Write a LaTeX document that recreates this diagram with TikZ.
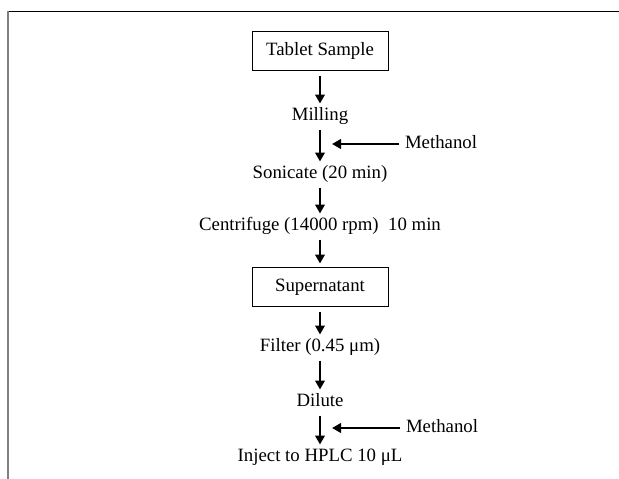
\documentclass[tikz,border=0pt]{standalone}
\usepackage{fontspec}
\setmainfont{Liberation Serif}
\usetikzlibrary{arrows.meta}
\begin{document}
\begin{tikzpicture}[x=1pt,y=-1pt,
  every node/.style={font=\fontsize{18.8}{22}\selectfont, inner sep=0pt, outer sep=0pt, text height=13pt, text depth=4pt},
  stepbox/.style={draw=black, line width=1pt, minimum width=136pt, minimum height=39pt},
  lbl/.style={},
  arr/.style={line width=2.3pt, -{Triangle[length=9pt,width=9.5pt]}, shorten <=5pt, shorten >=4pt},
  sidearr/.style={line width=2.3pt, -{Triangle[length=9pt,width=9.5pt]}, shorten <=6pt, shorten >=12pt}]
\useasboundingbox (0,0) rectangle (619,479);
\draw[line width=1pt, black] (8,11) -- (619,11);
\draw[line width=2pt, gray] (8,11) -- (8,479);

\node[stepbox] (ts) at (320,51) {Tablet Sample};
\node[lbl] (mill) at (320,116) {Milling};
\node[lbl] (son) at (320,174) {Sonicate (20 min)};
\node[lbl] (cen) at (320,226) {Centrifuge (14000 rpm)\ \ 10 min};
\node[stepbox] (sup) at (320,287) {Supernatant};
\node[lbl] (fil) at (320,347) {Filter (0.45 μm)};
\node[lbl] (dil) at (320,402) {Dilute};
\node[lbl] (inj) at (320,457) {Inject to HPLC 10 μL};
\node[lbl, anchor=west] (meth1) at (405,144) {Methanol};
\node[lbl, anchor=west] (meth2) at (406,428) {Methanol};

\draw[arr] (ts) -- (mill);
\draw[arr] (mill) -- (son);
\draw[arr] (son) -- (cen);
\draw[arr] (cen) -- (sup);
\draw[arr] (sup) -- (fil);
\draw[arr] (fil) -- (dil);
\draw[arr] (dil) -- (inj);
\draw[sidearr] (meth1.west) -- (meth1.west -| mill);
\draw[sidearr] (meth2.west) -- (meth2.west -| dil);
\end{tikzpicture}
\end{document}
